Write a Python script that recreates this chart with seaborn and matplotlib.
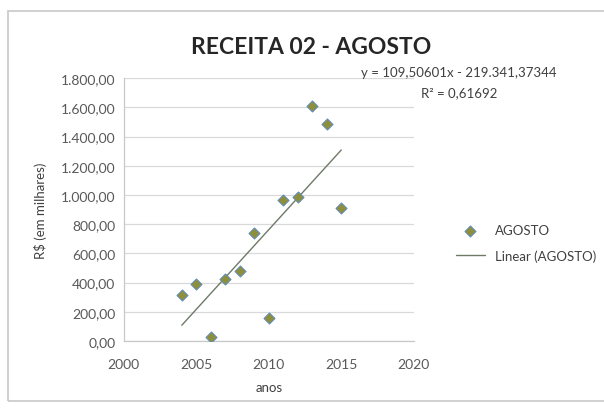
import numpy as np
import pandas as pd
import seaborn as sns
import matplotlib.pyplot as plt
from matplotlib.patches import Rectangle

# values (R$ em milhares)
anos = [2004, 2005, 2006, 2007, 2008, 2009, 2010, 2011, 2012, 2013, 2014, 2015]
agosto = [315, 387, 25, 426, 479, 742, 160, 966, 984, 1612, 1484, 911]

yticks = [0, 200, 400, 600, 800, 1000, 1200, 1400, 1600, 1800]
xticks = [2000, 2005, 2010, 2015, 2020]

equacao = "y = 109,50601x - 219.341,37344"
r2 = "R² = 0,61692"

df = pd.DataFrame({"anos": anos, "AGOSTO": agosto})

sns.set_style("white")
plt.rcParams["font.family"] = ["Lato", "DejaVu Sans"]

fig = plt.figure(figsize=(6.04, 4.10), dpi=100)
ax = fig.add_axes([0.205, 0.166, 0.48, 0.641])

# outer chart border
fig.patches.append(Rectangle((0.013, 0.02), 1.0, 0.95, transform=fig.transFigure,
                             fill=False, edgecolor="#c8c8c8", linewidth=1.2))

sns.regplot(data=df, x="anos", y="AGOSTO", scatter=False, ci=None, truncate=True,
            ax=ax, line_kws={"color": "#6e7a68", "linewidth": 1.0}, label="Linear (AGOSTO)")
sns.scatterplot(data=df, x="anos", y="AGOSTO", marker="D", s=32, color="#8e8f3c",
                edgecolor="#5b8bc0", linewidth=0.7, ax=ax, label="AGOSTO", zorder=3)

ax.set_xlim(2000, 2020)
ax.set_ylim(0, 1800)
ax.set_xticks(xticks)
ax.set_yticks(yticks)
ax.set_yticklabels([f"{v:,.2f}".replace(",", "X").replace(".", ",").replace("X", ".") for v in yticks])
ax.tick_params(axis="both", labelsize=10, colors="#595959", length=0)
ax.tick_params(axis="y", pad=6)
ax.tick_params(axis="x", pad=12)
ax.grid(axis="y", color="#d9d9d9", linewidth=0.9)
for s in ["top", "right"]:
    ax.spines[s].set_visible(False)
for s in ["left", "bottom"]:
    ax.spines[s].set_color("#c8c8c8")
    ax.spines[s].set_linewidth(0.9)

ax.set_xlabel("anos", fontsize=9.5, color="#404040", labelpad=8)
ax.set_ylabel("R$ (em milhares)", fontsize=9.5, color="#404040", labelpad=10)

fig.text(0.515, 0.885, "RECEITA 02 - AGOSTO", ha="center", va="center",
         fontsize=16.5, fontweight="bold", color="#262626")
fig.text(0.76, 0.822, equacao, ha="center", va="center", fontsize=9.5, color="#404040")
fig.text(0.76, 0.773, r2, ha="center", va="center", fontsize=9.5, color="#404040")

# legend order as in the chart: points then trend line
h, l = ax.get_legend_handles_labels()
ax.get_legend().remove()
order = [l.index("AGOSTO"), l.index("Linear (AGOSTO)")]
fig.legend([h[i] for i in order], [l[i] for i in order], loc="center left",
           bbox_to_anchor=(0.735, 0.405), frameon=False, fontsize=9.5,
           labelcolor="#404040", handlelength=2.2, labelspacing=1.0)

fig.savefig("out.png", dpi=100)
